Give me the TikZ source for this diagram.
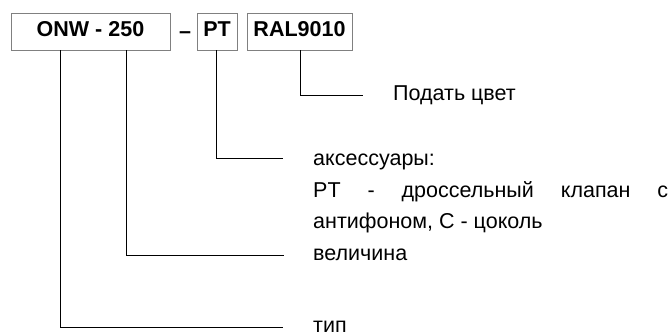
\documentclass[tikz,border=0pt]{standalone}
\usepackage{fontspec}
\setmainfont{Liberation Sans}
\usetikzlibrary{positioning}

\begin{document}
\begin{tikzpicture}[x=1pt,y=-1pt,
	codebox/.style={draw=black!50,line width=0.8pt,inner sep=0pt,minimum height=37pt,
		text height=15.4pt,text depth=6pt,font=\fontsize{21.5}{24}\selectfont\bfseries},
	lbl/.style={anchor=base west,inner sep=0pt,font=\fontsize{21.5}{24}\selectfont},
	conn/.style={line width=0.9pt}]
			\useasboundingbox (0,0) rectangle (671,336);

			\node[codebox,minimum width=159pt] (onw) at (90.5,31.5) {ONW - 250};
			\node[anchor=base,inner sep=0pt,font=\fontsize{21.5}{24}\selectfont\bfseries] (dash) at (185,38.3) {--};
			\node[codebox,minimum width=40pt] (pt) at (217,31.5) {PT};
			\node[codebox,minimum width=105pt] (ral) at (299.5,31.5) {RAL9010};

			\node[lbl] (colour) at (393,100.6) {Подать цвет};
			\node[lbl] (acc) at (313,165.6) {аксессуары:};
			\node[lbl] (accpt) at (313,197.3) {\hbox to 355pt{PT\hfill-\hfill дроссельный\hfill клапан\hfill с}};
			\node[lbl] (accbase) at (313,229) {антифоном, C - цоколь};
			\node[lbl] (size) at (313,260.6) {величина};
			\node[lbl] (type) at (313,332.4) {тип};

			\coordinate (colourend) at (363,95);
			\coordinate (accend) at (283,158);
			\coordinate (sizeend) at (284,255);
			\coordinate (typeend) at (283,327.5);

			\draw[conn] (ral.south -| 300.5,0) |- (colourend);
			\draw[conn] (pt.south -| 216,0) |- (accend);
			\draw[conn] (onw.south -| 126,0) |- (sizeend);
			\draw[conn] (onw.south -| 60,0) |- (typeend);
		\end{tikzpicture}
\end{document}
